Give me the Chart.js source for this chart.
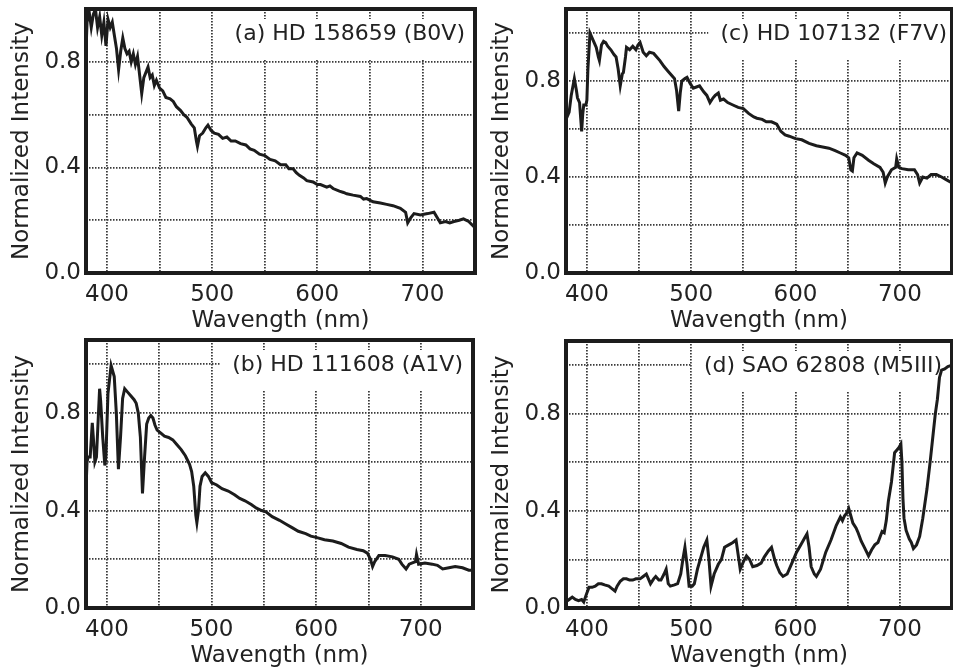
<!DOCTYPE html>
<html>
<head>
<meta charset="utf-8">
<script src="https://cdn.jsdelivr.net/npm/chart.js@4.4.1/dist/chart.umd.min.js"></script>
<style>
  html, body { margin: 0; padding: 0; background: #fff; overflow: hidden; }
  .panel { position: absolute; }
</style>
</head>
<body>
<div class="panel" style="left:0;top:0;width:480px;height:335px"><canvas id="chartA"></canvas></div>
<div class="panel" style="left:480px;top:0;width:473px;height:335px"><canvas id="chartC"></canvas></div>
<div class="panel" style="left:0;top:335px;width:480px;height:335px"><canvas id="chartB"></canvas></div>
<div class="panel" style="left:480px;top:335px;width:473px;height:335px"><canvas id="chartD"></canvas></div>
<script>
// panel titles
const labelA = '(a) HD 158659 (B0V)';
const labelB = '(b) HD 111608 (A1V)';
const labelC = '(c) HD 107132 (F7V)';
const labelD = '(d) SAO 62808 (M5III)';

// axis ticks
const xTicks = [400, 450, 500, 550, 600, 650, 700, 750];
const xLabels = [400, 500, 600, 700];
const yTicks = [0, 0.2, 0.4, 0.6, 0.8, 1.0];
const yLabels = ['0.0', '0.4', '0.8'];

// (a) B0V
const waveA = [380, 381, 383, 385, 387, 389, 391, 393, 395, 397, 399, 401, 403, 405, 407, 409, 411, 413, 415, 417,
  419, 421, 423, 425, 427, 429, 431, 433, 435, 437, 439, 441, 443, 445, 447, 450, 453, 456, 460, 463,
  466, 470, 473, 476, 480, 483, 485, 486, 488, 491, 494, 496, 499, 502, 506, 510, 514, 518, 522, 527,
  532, 536, 540, 545, 550, 555, 560, 565, 570, 573, 577, 580, 583, 587, 590, 596, 600, 603, 609, 612,
  615, 621, 625, 628, 634, 641, 644, 647, 653, 660, 666, 672, 679, 684, 686, 689, 692, 698, 705, 711,
  714, 717, 722, 726, 730, 735, 739, 744, 749];
const fluxA = [0.84, 0.95, 0.99, 0.93, 0.98, 1.0, 0.93, 0.97, 0.90, 0.95, 0.86, 0.96, 0.93, 0.95, 0.90, 0.85, 0.77, 0.84, 0.89, 0.85,
  0.83, 0.84, 0.80, 0.83, 0.79, 0.82, 0.75, 0.68, 0.74, 0.76, 0.78, 0.74, 0.75, 0.71, 0.73, 0.70, 0.69, 0.665, 0.66, 0.65,
  0.63, 0.615, 0.60, 0.59, 0.565, 0.55, 0.50, 0.48, 0.52, 0.53, 0.55, 0.56, 0.54, 0.53, 0.525, 0.51, 0.515, 0.50, 0.50, 0.49,
  0.485, 0.47, 0.465, 0.45, 0.445, 0.43, 0.425, 0.41, 0.41, 0.395, 0.395, 0.38, 0.37, 0.36, 0.35, 0.345, 0.335, 0.335, 0.325, 0.33,
  0.32, 0.31, 0.305, 0.30, 0.295, 0.29, 0.28, 0.282, 0.27, 0.265, 0.26, 0.255, 0.245, 0.23, 0.19, 0.21, 0.225, 0.22, 0.225, 0.23,
  0.21, 0.19, 0.195, 0.19, 0.195, 0.20, 0.205, 0.195, 0.175];

// (b) A1V
const waveB = [380, 381, 382, 384, 386, 387, 388.5, 390, 393, 394, 396, 398, 399, 401, 404, 407, 409, 411, 413, 415,
  417, 420, 423, 426, 428, 430, 432, 434, 436, 438, 440, 442, 444, 446, 448, 451, 455, 459, 463, 467,
  471, 475, 479, 481, 483, 485, 486, 487.5, 489, 491, 494, 497, 500, 505, 510, 516, 522, 527, 532, 538,
  543, 548, 552, 558, 565, 571, 577, 583, 590, 595, 600, 608, 616, 624, 631, 639, 645, 649, 652, 654,
  656, 660, 666, 673, 679, 682, 686, 689, 692, 695, 696, 698, 704, 711, 716, 721, 727, 733, 740, 746, 750];
const fluxB = [0.49, 0.60, 0.62, 0.62, 0.76, 0.70, 0.60, 0.62, 0.90, 0.85, 0.70, 0.585, 0.62, 0.88, 0.995, 0.95, 0.80, 0.57, 0.70, 0.86,
  0.90, 0.885, 0.87, 0.855, 0.84, 0.80, 0.70, 0.47, 0.62, 0.755, 0.78, 0.79, 0.78, 0.75, 0.73, 0.72, 0.705, 0.70, 0.69, 0.67,
  0.65, 0.625, 0.59, 0.56, 0.50, 0.38, 0.35, 0.40, 0.50, 0.54, 0.555, 0.54, 0.515, 0.505, 0.49, 0.48, 0.465, 0.45, 0.44, 0.425,
  0.41, 0.40, 0.395, 0.375, 0.36, 0.345, 0.33, 0.315, 0.305, 0.295, 0.29, 0.28, 0.275, 0.265, 0.25, 0.24, 0.235, 0.225, 0.20, 0.17,
  0.19, 0.215, 0.215, 0.21, 0.20, 0.18, 0.16, 0.18, 0.185, 0.19, 0.22, 0.18, 0.185, 0.18, 0.175, 0.16, 0.165, 0.17, 0.165, 0.155, 0.155];

// (c) F7V
const waveC = [380, 382, 383, 385, 388, 390, 391, 393, 395, 396, 397, 399, 400, 401, 403, 405, 407, 409, 411, 412,
  414, 416, 418, 420, 423, 426, 428, 430, 432, 434, 435, 437, 438, 441, 444, 447, 449, 451, 454, 457,
  460, 464, 467, 470, 474, 478, 482, 484, 486, 488, 489.5, 491, 494, 496, 499, 502, 505, 508, 512, 515,
  518, 521, 523, 526, 528, 531, 535, 540, 545, 550, 555, 560, 563, 568, 572, 577, 582, 586, 590, 594,
  600, 606, 613, 620, 626, 632, 638, 643, 648, 651, 653, 654.5, 656, 659, 664, 670, 675, 681, 684, 686,
  688, 692, 696, 697, 699, 702, 708, 714, 717, 719, 722, 726, 730, 735, 740, 744, 750];
const fluxC = [0.685, 0.66, 0.67, 0.74, 0.81, 0.76, 0.73, 0.71, 0.59, 0.66, 0.70, 0.70, 0.72, 0.85, 1.0, 0.98, 0.96, 0.94, 0.90, 0.885,
  0.95, 0.965, 0.96, 0.945, 0.93, 0.91, 0.90, 0.85, 0.78, 0.83, 0.835, 0.90, 0.94, 0.93, 0.945, 0.93, 0.95, 0.96, 0.92, 0.905,
  0.92, 0.915, 0.90, 0.885, 0.86, 0.84, 0.82, 0.81, 0.76, 0.675, 0.75, 0.80, 0.81, 0.815, 0.79, 0.77, 0.775, 0.78, 0.755, 0.74,
  0.71, 0.73, 0.74, 0.75, 0.72, 0.725, 0.71, 0.70, 0.69, 0.685, 0.665, 0.65, 0.645, 0.64, 0.63, 0.63, 0.62, 0.59, 0.575, 0.57,
  0.56, 0.555, 0.54, 0.53, 0.525, 0.52, 0.51, 0.50, 0.49, 0.48, 0.43, 0.425, 0.48, 0.50, 0.49, 0.47, 0.455, 0.44, 0.42, 0.375,
  0.40, 0.43, 0.44, 0.475, 0.44, 0.435, 0.43, 0.43, 0.41, 0.375, 0.40, 0.395, 0.41, 0.41, 0.40, 0.39, 0.375];

// (d) M5III
const waveD = [380, 383, 386, 389, 392, 395, 397, 399, 402, 405, 408, 411, 414, 417, 421, 424, 427, 429, 432, 435,
  438, 441, 444, 447, 451, 454, 457, 459, 461, 464, 466, 469, 471, 474, 476, 478, 480, 484, 487, 490,
  492, 494, 496, 498, 501, 503, 506, 508, 512, 515, 517, 519, 522, 526, 529, 532, 536, 540, 543, 545,
  547, 550, 553, 556, 559, 563, 567, 570, 574, 577, 580, 582, 585, 588, 592, 596, 601, 605, 609, 611,
  613, 615, 618, 620, 624, 629, 634, 639, 643, 645, 647, 649, 651, 653, 655, 658, 660, 663, 666, 670,
  673, 676, 679, 683, 685, 687, 689, 692, 695, 697, 699, 701, 702, 703, 704, 706, 709, 711, 713, 716,
  719, 722, 726, 729, 732, 734, 736, 738, 740, 743, 746, 750];
const fluxD = [0.025, 0.035, 0.045, 0.035, 0.03, 0.035, 0.025, 0.05, 0.085, 0.085, 0.09, 0.10, 0.10, 0.095, 0.09, 0.08, 0.07, 0.09, 0.11, 0.12,
  0.12, 0.115, 0.115, 0.12, 0.12, 0.13, 0.14, 0.12, 0.10, 0.12, 0.13, 0.115, 0.115, 0.14, 0.16, 0.10, 0.09, 0.095, 0.10, 0.14,
  0.20, 0.25, 0.18, 0.09, 0.09, 0.10, 0.16, 0.19, 0.25, 0.28, 0.20, 0.09, 0.14, 0.18, 0.20, 0.25, 0.26, 0.27, 0.28, 0.22,
  0.16, 0.19, 0.215, 0.20, 0.17, 0.175, 0.185, 0.21, 0.235, 0.25, 0.20, 0.175, 0.145, 0.13, 0.14, 0.18, 0.23, 0.26, 0.29, 0.305,
  0.25, 0.17, 0.14, 0.13, 0.16, 0.23, 0.28, 0.34, 0.375, 0.36, 0.38, 0.39, 0.41, 0.38, 0.35, 0.33, 0.31, 0.275, 0.25, 0.215,
  0.24, 0.26, 0.27, 0.315, 0.31, 0.36, 0.44, 0.52, 0.64, 0.65, 0.66, 0.675, 0.60, 0.45, 0.37, 0.32, 0.285, 0.27, 0.245, 0.26,
  0.295, 0.37, 0.49, 0.60, 0.72, 0.80, 0.86, 0.95, 0.98, 0.985, 0.995, 1.0];

const FONT = '"DejaVu Sans", sans-serif';

// white box behind the panel title + thick frame round the plot
const panelDecor = {
  id: 'panelDecor',
  beforeDatasetsDraw(chart, args, opts) {
    const {ctx, chartArea: a} = chart;
    ctx.save();
    ctx.font = '22px ' + FONT;
    const w = ctx.measureText(opts.text).width;
    const tx = a.right - opts.inset;
    const ty = a.top + 25;
    ctx.fillStyle = '#fff';
    ctx.fillRect(tx - w - 12, ty - 15, a.right - (tx - w - 12), 40);
    ctx.fillStyle = '#222';
    ctx.textAlign = 'right';
    ctx.textBaseline = 'middle';
    ctx.fillText(opts.text, tx, ty);
    ctx.restore();
  },
  afterDatasetsDraw(chart) {
    const {ctx, chartArea: a} = chart;
    ctx.save();
    ctx.strokeStyle = '#1c1c1c';
    ctx.lineWidth = 4;
    ctx.strokeRect(a.left, a.top, a.right - a.left, a.bottom - a.top);
    ctx.restore();
  }
};

// drop the extra room chart.js keeps for half tick labels
function noPad(s) {
  s.paddingTop = 0;
  s.paddingBottom = 0;
  s.paddingLeft = 0;
  s.paddingRight = 0;
}

function makePanel(id, waves, flux, label, yMax, padTop, padRight, inset) {
  const points = waves.map((w, i) => ({x: w, y: flux[i]}));
  return new Chart(document.getElementById(id), {
    type: 'line',
    data: {
      datasets: [{
        data: points,
        borderColor: '#1c1c1c',
        borderWidth: 3,
        pointRadius: 0,
        tension: 0
      }]
    },
    plugins: [panelDecor],
    options: {
      responsive: true,
      maintainAspectRatio: false,
      animation: false,
      layout: { padding: { top: padTop, right: padRight, left: 0, bottom: 0 } },
      plugins: {
        legend: { display: false },
        tooltip: { enabled: false },
        panelDecor: { text: label, inset: inset }
      },
      scales: {
        x: {
          type: 'linear',
          min: 380,
          max: 750,
          afterBuildTicks: s => { s.ticks = xTicks.map(v => ({value: v})); },
          afterFit: s => { s.height = 62; noPad(s); },
          grid: { color: '#3a3a3a', lineWidth: 1.8, drawTicks: false },
          border: { display: false, dash: [1.5, 1.5] },
          ticks: {
            autoSkip: false,
            maxRotation: 0,
            padding: 8,
            color: '#222',
            font: { family: FONT, size: 23 },
            callback: v => xLabels.includes(v) ? String(v) : ''
          },
          title: {
            display: true,
            text: 'Wavength (nm)',
            color: '#222',
            font: { family: FONT, size: 23, lineHeight: 1 },
            padding: { top: 0, bottom: 2 }
          }
        },
        y: {
          min: 0,
          max: yMax,
          afterBuildTicks: s => { s.ticks = yTicks.map(v => ({value: v})); },
          afterFit: s => { s.width = 86; noPad(s); },
          grid: { color: '#3a3a3a', lineWidth: 1.8, drawTicks: false },
          border: { display: false, dash: [1.5, 1.5] },
          ticks: {
            padding: 5,
            color: '#222',
            font: { family: FONT, size: 23 },
            callback: v => {
              const s = v.toFixed(1);
              return yLabels.includes(s) ? s : '';
            }
          },
          title: {
            display: true,
            text: 'Normalized Intensity',
            color: '#222',
            font: { family: FONT, size: 23, lineHeight: 1 },
            padding: { top: 11, bottom: 0 }
          }
        }
      }
    }
  });
}

makePanel('chartA', waveA, fluxA, labelA, 1.0, 9, 5, 10);
makePanel('chartC', waveC, fluxC, labelC, 1.1, 9, 1, 5);
makePanel('chartB', waveB, fluxB, labelB, 1.1, 5, 7, 10);
makePanel('chartD', waveD, fluxD, labelD, 1.1, 6, 1, 10);
</script>
</body>
</html>
